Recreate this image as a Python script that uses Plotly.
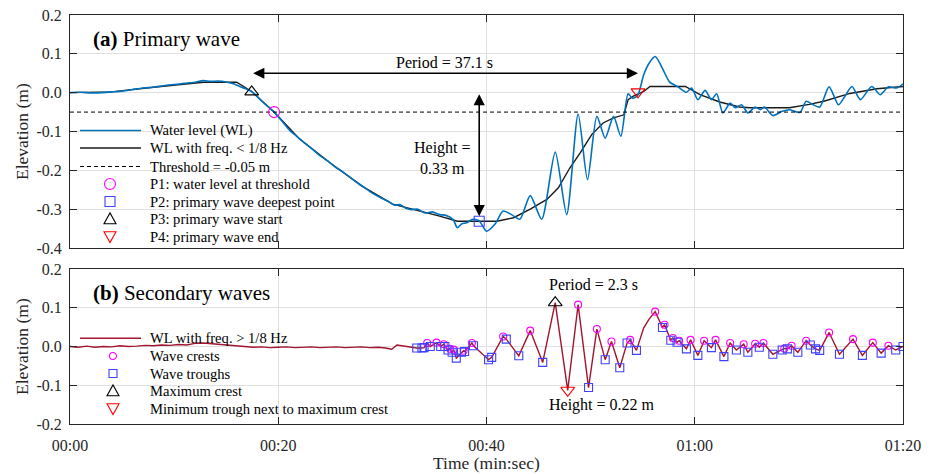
import plotly.graph_objects as go

W, H = 932, 474
FONT = "Liberation Serif"
AXC = "#262626"
GRID = "#e0e0e0"

# ---- (a) primary wave: raw water level (s, m) ----
wl_t = [0, 1, 2, 3, 4, 5, 6, 7, 8, 9, 10, 11, 12, 12.8, 13.5, 14.2, 15.1, 15.7, 16.5, 17.45,
        18.5, 19.6, 20.4, 21.1, 21.8, 22.6, 23.3, 24.0, 24.7, 25.5, 26.2, 26.9, 27.6, 28.3, 29.0,
        29.8, 30.5, 31.2, 31.7, 32.2, 32.7, 33.4, 34.1, 34.8, 35.5, 36.1, 36.8, 37.2, 37.6, 38.1,
        38.7, 39.3, 40.0, 40.8, 41.6, 42.4, 43.2, 44.2, 45.3, 46.6, 47.7, 48.8, 49.7, 50.6, 51.4,
        52.2, 52.9, 53.6, 54.0, 54.5, 55.1, 55.6, 56.2, 57.0, 57.6, 58.4, 59.2, 59.7, 60.3, 61.0,
        61.6, 62.1, 62.7, 63.4, 63.9, 64.5, 65.1, 65.8, 66.3, 66.7, 67.5, 68.4, 69.1, 70.1, 70.7,
        71.3, 72.0, 72.9, 73.8, 74.4, 75.1, 75.9, 77.0, 77.8, 78.6, 79.4, 80.0]
wl_v = [0.000, 0.001, -0.001, 0.000, 0.002, 0.004, 0.008, 0.012, 0.014, 0.018, 0.021, 0.024, 0.027,
        0.031, 0.029, 0.030, 0.027, 0.023, 0.014, 0.003, -0.024, -0.050, -0.075, -0.097, -0.113,
        -0.131, -0.146, -0.162, -0.175, -0.192, -0.204, -0.218, -0.232, -0.245, -0.258, -0.270,
        -0.279, -0.290, -0.288, -0.297, -0.301, -0.300, -0.310, -0.307, -0.314, -0.316, -0.327,
        -0.348, -0.338, -0.335, -0.326, -0.330, -0.357, -0.339, -0.305, -0.314, -0.326, -0.265,
        -0.326, -0.153, -0.314, -0.055, -0.224, -0.061, -0.117, -0.061, -0.112, -0.003, -0.014,
        -0.008, 0.046, 0.075, 0.093, 0.057, 0.027, 0.015, 0.001, 0.012, -0.018, 0.006, -0.018,
        -0.003, -0.052, -0.027, -0.039, -0.031, -0.052, -0.037, -0.044, -0.037, -0.059, -0.048,
        -0.044, -0.051, -0.022, -0.030, -0.037, 0.015, -0.031, -0.010, 0.016, -0.018, 0.016,
        -0.005, 0.015, 0.012, 0.023]

# low-pass water level (< 1/8 Hz)
lp_t = [0, 4, 8, 12, 12.8, 16.0, 17.45, 19.6, 22.0, 25.0, 28.0, 31.0, 33.0, 34.3, 35.5, 37.2,
        41.0, 42.6, 44.2, 45.8, 46.9, 48.0, 49.0, 50.1, 51.2, 52.2, 53.2, 53.6, 54.1, 55.1, 55.7,
        59.1, 60.5, 62.4, 64.3, 65.3, 69.1, 71.0, 72.4, 74.9, 77.5, 80.0]
lp_v = [0.000, 0.002, 0.014, 0.026, 0.027, 0.027, 0.003, -0.050, -0.118, -0.181, -0.240, -0.287,
        -0.300, -0.309, -0.318, -0.331, -0.331, -0.322, -0.300, -0.275, -0.245, -0.194, -0.155,
        -0.108, -0.078, -0.065, -0.057, -0.018, -0.009, 0.003, 0.016, 0.016, -0.005, -0.024,
        -0.037, -0.039, -0.039, -0.030, -0.022, -0.002, 0.010, 0.016]

threshold = -0.05
p1 = (19.6, -0.050)    # water level at threshold
p2 = (39.3, -0.331)    # deepest point
p3 = (17.45, 0.002)    # primary wave start
p4 = (54.55, 0.002)    # primary wave end
primary_period = "37.1"
primary_height = "0.33"

# ---- (b) secondary waves: high-pass water level ----
hf_quiet_t = [0, 0.8, 1.6, 2.4, 3.2, 4, 4.8, 5.6, 6.4, 7.2, 8, 8.8, 9.6, 10.4, 11.2, 12, 12.8, 13.6,
              14.4, 15.2, 16, 16.8, 17.6, 18.4, 19.2, 20, 20.8, 21.6, 22.4, 23.2, 24, 24.8, 25.6,
              26.4, 27.2, 28, 28.8, 29.6, 30.3, 30.9, 31.4, 32.0, 32.7]
hf_quiet_v = [0.000, -0.002, 0.001, -0.002, 0.000, -0.001, 0.002, 0.000, 0.001, 0.003, 0.002, 0.004,
              0.003, 0.005, 0.004, 0.008, 0.009, 0.007, 0.006, 0.003, 0.001, -0.001, -0.002, -0.001,
              -0.003, -0.002, -0.001, -0.003, -0.002, -0.001, -0.003, -0.002, -0.001, -0.003, -0.002,
              -0.001, -0.003, -0.002, -0.004, -0.007, 0.004, 0.001, -0.001]
hf_mid_t = [55.1, 55.6]
hf_mid_v = [0.048, 0.070]

crest_t = [34.3, 35.2, 35.9, 36.5, 36.85, 37.8, 38.6, 41.6, 44.2, 48.8, 50.6, 52.0, 53.8, 56.2,
           57.1, 57.9, 58.5, 59.6, 60.9, 62.0, 63.4, 64.7, 65.8, 66.6, 68.6, 69.3, 70.7, 72.9,
           75.2, 77.1, 78.6]
crest_v = [0.009, 0.010, 0.006, -0.006, -0.008, -0.011, 0.009, 0.026, 0.041, 0.108, 0.045, 0.013,
           0.017, 0.090, 0.056, 0.022, 0.015, 0.017, 0.015, 0.017, 0.009, 0.006, 0.007, 0.009,
           -0.005, 0.002, 0.015, 0.036, 0.019, 0.010, 0.002]
trough_t = [33.3, 33.8, 34.0, 34.6, 35.6, 36.0, 36.3, 36.7, 37.1, 37.6, 37.9, 38.75, 40.2, 40.5,
            41.9, 43.1, 45.4, 49.8, 51.4, 52.8, 53.5, 54.4, 56.9, 57.7, 58.3, 59.2, 60.3, 61.6,
            62.8, 64.0, 65.1, 66.2, 67.5, 68.4, 68.9, 69.9, 71.1, 71.6, 72.0, 73.9, 76.1, 77.9,
            79.3, 80.0]
trough_v = [-0.004, -0.004, -0.003, 0.000, 0.000, 0.000, -0.009, -0.015, -0.030, -0.015, -0.013,
            0.002, -0.034, -0.028, 0.019, -0.024, -0.041, -0.106, -0.034, -0.055, 0.009, -0.010,
            0.049, 0.016, 0.011, -0.006, -0.023, -0.003, -0.026, -0.009, -0.015, -0.002, -0.020,
            -0.009, -0.006, -0.015, 0.004, -0.006, -0.010, -0.020, -0.023, -0.017, -0.009, 0.000]
max_crest = (46.6, 0.113)
min_trough = (47.8, -0.113)
secondary_period = "2.3"
secondary_height = "0.22"

# high-pass series through all sampled points, in time order
hf_pts = sorted(
    list(zip(hf_quiet_t, hf_quiet_v)) + list(zip(hf_mid_t, hf_mid_v))
    + list(zip(crest_t, crest_v)) + list(zip(trough_t, trough_v))
    + [max_crest, min_trough]
)
hf_t = [p[0] for p in hf_pts]
hf_v = [p[1] for p in hf_pts]

x_ticks = [0, 20, 40, 60, 80]
x_labels = ["00:00", "00:20", "00:40", "01:00", "01:20"]
ya_ticks = [-0.4, -0.3, -0.2, -0.1, 0.0, 0.1, 0.2]
ya_labels = ["-0.4", "-0.3", "-0.2", "-0.1", "0.0", "0.1", "0.2"]
yb_ticks = [-0.2, -0.1, 0.0, 0.1, 0.2]
yb_labels = ["-0.2", "-0.1", "0.0", "0.1", "0.2"]

C_WL = "#0072BD"
C_LP = "#1a1a1a"
C_HF = "#A2142F"
C_MAG = "#FF00FF"
C_SQ = "#4040FF"
C_RED = "#FF0000"

fig = go.Figure()

# panel (a): low-pass first so the raw record sits on top of it
fig.add_trace(go.Scatter(x=lp_t, y=lp_v, mode="lines", line=dict(color=C_LP, width=1.4),
                         xaxis="x", yaxis="y", showlegend=False))
fig.add_trace(go.Scatter(x=wl_t, y=wl_v, mode="lines", line=dict(color=C_WL, width=1.6, shape="spline", smoothing=0.7),
                         xaxis="x", yaxis="y", showlegend=False))
fig.add_trace(go.Scatter(x=[0, 80], y=[threshold, threshold], mode="lines",
                         line=dict(color="#000000", width=1, dash="4px,3px"),
                         xaxis="x", yaxis="y", showlegend=False))
for (pt, sym, col, size) in [(p1, "circle-open", C_MAG, 11), (p2, "square-open", C_SQ, 10),
                             (p3, "triangle-up-open", "#000000", 12), (p4, "triangle-down-open", C_RED, 12)]:
    fig.add_trace(go.Scatter(x=[pt[0]], y=[pt[1]], mode="markers",
                             marker=dict(symbol=sym, size=size, color=col, line=dict(width=1.1, color=col)),
                             xaxis="x", yaxis="y", showlegend=False))

# panel (b)
fig.add_trace(go.Scatter(x=hf_t, y=hf_v, mode="lines", line=dict(color=C_HF, width=1.4),
                         xaxis="x2", yaxis="y2", showlegend=False))
fig.add_trace(go.Scatter(x=crest_t, y=crest_v, mode="markers",
                         marker=dict(symbol="circle-open", size=7, color=C_MAG, line=dict(width=1.1, color=C_MAG)),
                         xaxis="x2", yaxis="y2", showlegend=False))
fig.add_trace(go.Scatter(x=trough_t, y=trough_v, mode="markers",
                         marker=dict(symbol="square-open", size=8, color=C_SQ, line=dict(width=1.1, color=C_SQ)),
                         xaxis="x2", yaxis="y2", showlegend=False))
fig.add_trace(go.Scatter(x=[max_crest[0]], y=[max_crest[1]], mode="markers",
                         marker=dict(symbol="triangle-up-open", size=12, color="#000000", line=dict(width=1.1, color="#000000")),
                         xaxis="x2", yaxis="y2", showlegend=False))
fig.add_trace(go.Scatter(x=[min_trough[0]], y=[min_trough[1]], mode="markers",
                         marker=dict(symbol="triangle-down-open", size=12, color=C_RED, line=dict(width=1.1, color=C_RED)),
                         xaxis="x2", yaxis="y2", showlegend=False))

# layout geometry (pixels of the 932 x 474 page)
def fx(px):
    return px / W

def fy(py):
    return 1 - py / H

X0, X1 = 70, 903
axis_common = dict(showline=True, linecolor=AXC, linewidth=1, mirror="ticks", ticks="inside",
                   ticklen=7, tickcolor=AXC, showgrid=True, gridcolor=GRID, gridwidth=1,
                   zeroline=False, tickfont=dict(family=FONT, size=16, color=AXC))

layout = dict(
    width=W, height=H, autosize=False,
    margin=dict(l=0, r=0, t=0, b=0),
    paper_bgcolor="white", plot_bgcolor="white",
    template="none",
    showlegend=False,
    xaxis=dict(domain=[fx(X0), fx(X1)], range=[0, 80], tickvals=x_ticks, showticklabels=False,
               anchor="y", **axis_common),
    yaxis=dict(domain=[fy(248), fy(15)], range=[-0.4, 0.2], tickvals=ya_ticks, ticktext=ya_labels,
               anchor="x", ticklabelstandoff=4, **axis_common),
    xaxis2=dict(domain=[fx(X0), fx(X1)], range=[0, 80], tickvals=x_ticks, ticktext=x_labels,
                anchor="y2", ticklabelstandoff=7, **axis_common),
    yaxis2=dict(domain=[fy(424), fy(269)], range=[-0.2, 0.2], tickvals=yb_ticks, ticktext=yb_labels,
                anchor="x2", ticklabelstandoff=4, **axis_common),
)
fig.update_layout(**layout)

shapes = []
ann = []

# legend boxes: white, above the grid but below the traces
shapes.append(dict(type="rect", xref="paper", yref="paper", x0=fx(71), x1=fx(302), y0=fy(241), y1=fy(122),
                   fillcolor="white", line=dict(width=0), layer="between"))
shapes.append(dict(type="rect", xref="paper", yref="paper", x0=fx(71), x1=fx(302), y0=fy(412), y1=fy(331),
                   fillcolor="white", line=dict(width=0), layer="between"))

def legend_line(y, color, dash="solid", x0=80, x1=141):
    shapes.append(dict(type="line", xref="paper", yref="paper", x0=fx(x0), x1=fx(x1), y0=fy(y), y1=fy(y),
                       line=dict(color=color, width=1.5 if dash == "solid" else 1, dash=dash), layer="above"))

def legend_marker(x, y, kind, color, r):
    base = dict(xref="paper", yref="paper", xsizemode="pixel", ysizemode="pixel",
                xanchor=fx(x), yanchor=fy(y), line=dict(color=color, width=1.1), layer="above")
    if kind == "circle":
        shapes.append(dict(type="circle", x0=-r, x1=r, y0=-r, y1=r, **base))
    elif kind == "square":
        shapes.append(dict(type="rect", x0=-r, x1=r, y0=-r, y1=r, **base))
    elif kind == "up":
        shapes.append(dict(type="path", path=f"M {-r},{-0.8*r} L {r},{-0.8*r} L 0,{r} Z", **base))
    else:
        shapes.append(dict(type="path", path=f"M {-r},{0.8*r} L {r},{0.8*r} L 0,{-r} Z", **base))

def legend_text(y, text, x=147.5):
    ann.append(dict(xref="paper", yref="paper", x=fx(x), y=fy(y), xanchor="left", yanchor="middle",
                    text=text, showarrow=False, font=dict(family=FONT, size=14.6, color="#000000")))

rows_a = [130.5, 148, 166.5, 184, 201.5, 219, 236.5]
legend_line(rows_a[0], C_WL)
legend_line(rows_a[1], C_LP)
legend_line(rows_a[2], "#000000", dash="4px,3px")
legend_marker(110, rows_a[3], "circle", C_MAG, 5.5)
legend_marker(110, rows_a[4], "square", C_SQ, 5)
legend_marker(110, rows_a[5], "up", "#000000", 6)
legend_marker(110, rows_a[6], "down", C_RED, 6)
for y, t in zip(rows_a, ["Water level (WL)", "WL with freq. < 1/8 Hz", "Threshold = -0.05 m",
                         "P1: water level at threshold", "P2: primary wave deepest point",
                         "P3: primary wave start", "P4: primary wave end"]):
    legend_text(y, t)

rows_b = [338.3, 356, 373.5, 391, 408.5]
legend_line(rows_b[0], C_HF)
legend_marker(113, rows_b[1], "circle", C_MAG, 3.5)
legend_marker(113, rows_b[2], "square", C_SQ, 4)
legend_marker(113, rows_b[3], "up", "#000000", 6)
legend_marker(113, rows_b[4], "down", C_RED, 6)
for y, t in zip(rows_b, ["WL with freq. > 1/8 Hz", "Wave crests", "Wave troughs", "Maximum crest",
                         "Minimum trough next to maximum crest"]):
    legend_text(y, t)

# panel titles and axis titles
ann.append(dict(xref="paper", yref="paper", x=fx(91), y=fy(39), xanchor="left", yanchor="middle",
                text="<b>(a)</b> Primary wave", showarrow=False, font=dict(family=FONT, size=21, color="#000000")))
ann.append(dict(xref="paper", yref="paper", x=fx(91), y=fy(293), xanchor="left", yanchor="middle",
                text="<b>(b)</b> Secondary waves", showarrow=False, font=dict(family=FONT, size=21, color="#000000")))
for yc in (132, 347):
    ann.append(dict(xref="paper", yref="paper", x=fx(22), y=fy(yc), xanchor="center", yanchor="middle",
                    text="Elevation (m)", textangle=-90, showarrow=False,
                    font=dict(family=FONT, size=17.5, color=AXC)))
ann.append(dict(xref="paper", yref="paper", x=fx(487), y=fy(463), xanchor="center", yanchor="middle",
                text="Time (min:sec)", showarrow=False, font=dict(family=FONT, size=17.5, color=AXC)))

# period and height arrows of the primary wave
arrow_y = 0.05
ann.append(dict(xref="x", yref="y", axref="x", ayref="y", x=p4[0], y=arrow_y, ax=p3[0], ay=arrow_y,
                text="", showarrow=True, arrowhead=2, arrowside="end+start", arrowsize=1.4,
                arrowwidth=1.6, arrowcolor="#000000"))
ann.append(dict(xref="x", yref="y", axref="x", ayref="y", x=p2[0], y=p2[1], ax=p2[0], ay=0.0,
                text="", showarrow=True, arrowhead=2, arrowside="end+start", arrowsize=1.4,
                arrowwidth=1.6, arrowcolor="#000000", standoff=5))
ann.append(dict(xref="x", yref="y", x=36.0, y=0.078, xanchor="center", yanchor="middle",
                text=f"Period = {primary_period} s", showarrow=False,
                font=dict(family=FONT, size=16, color="#000000")))
ann.append(dict(xref="x", yref="y", x=35.8, y=-0.167, xanchor="center", yanchor="middle",
                text=f"Height =<br>{primary_height} m", showarrow=False,
                font=dict(family=FONT, size=16, color="#000000")))

# labels of the largest secondary wave
ann.append(dict(xref="x2", yref="y2", x=45.8, y=0.159, xanchor="left", yanchor="middle",
                text=f"Period = {secondary_period} s", showarrow=False,
                font=dict(family=FONT, size=16, color="#000000")))
ann.append(dict(xref="x2", yref="y2", x=45.8, y=-0.150, xanchor="left", yanchor="middle",
                text=f"Height = {secondary_height} m", showarrow=False,
                font=dict(family=FONT, size=16, color="#000000")))

fig.update_layout(shapes=shapes, annotations=ann)
fig.write_html("out.html")
